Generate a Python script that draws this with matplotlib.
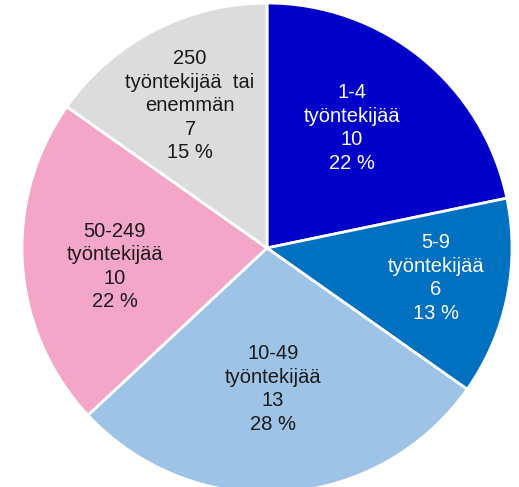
import numpy as np
import matplotlib.pyplot as plt

labels = ["1-4\ntyöntekijää", "5-9\ntyöntekijää", "10-49\ntyöntekijää",
          "50-249\ntyöntekijää", "250\ntyöntekijää  tai\nenemmän"]
values = [10, 6, 13, 10, 7]
percents = [22, 13, 28, 22, 15]

colors = ["#0000C8", "#0070C0", "#9DC3E6", "#F4A6C8", "#DCDCDC"]
text_colors = ["white", "white", "#1a1a1a", "#1a1a1a", "#1a1a1a"]
label_dist = [0.60, 0.70, 0.575, 0.625, 0.66]
label_shift = [4, 1.6, -1.5, 3, 1]  # degrees

plt.rcParams['font.family'] = ['Liberation Sans', 'DejaVu Sans']

fig = plt.figure(figsize=(5.19, 4.87), dpi=100)
ax = fig.add_axes([0, 0, 1, 1])
wedges, _ = ax.pie(values, colors=colors, startangle=90, counterclock=False,
                   radius=1.0, wedgeprops=dict(edgecolor="white", linewidth=2))

for w, lab, v, p, tc, d, sh in zip(wedges, labels, values, percents,
                                   text_colors, label_dist, label_shift):
    ang = np.deg2rad((w.theta1 + w.theta2) / 2 + sh)
    ax.text(d * np.cos(ang), d * np.sin(ang), f"{lab}\n{v}\n{p} %",
            ha="center", va="center", fontsize=14.5, color=tc, linespacing=1.3)

s = 245.0
ax.set_xlim(-267 / s, (519 - 267) / s)
ax.set_ylim(-(487 - 248) / s, 248 / s)
ax.set_aspect('auto')
ax.axis('off')

plt.savefig("out.png")
